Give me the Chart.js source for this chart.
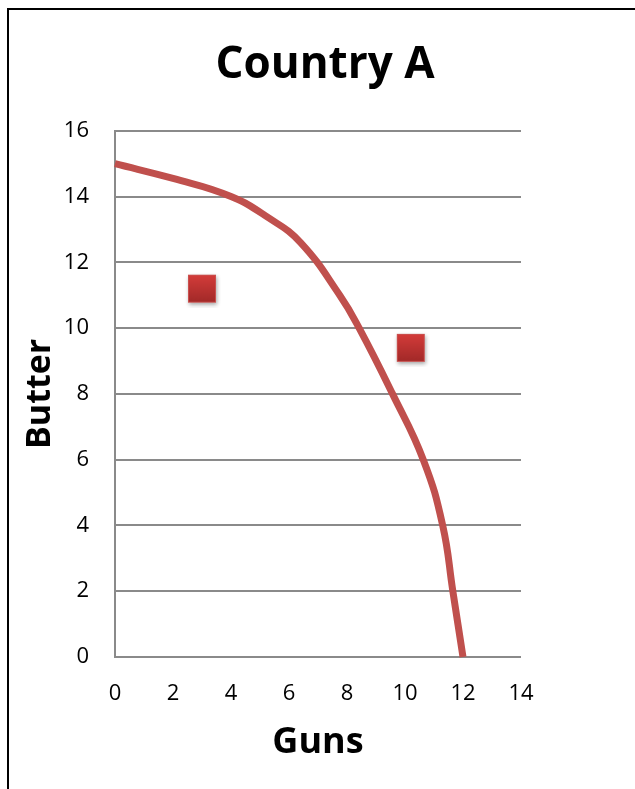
<!DOCTYPE html>
<html>
<head>
<meta charset="utf-8">
<script src="https://cdn.jsdelivr.net/npm/chart.js@4/dist/chart.umd.min.js"></script>
<style>
  html, body { margin: 0; padding: 0; background: #fff; overflow: hidden; }
  #wrap { position: relative; width: 635px; height: 789px; }
  #frame { position: absolute; left: 7px; top: 8px; right: -20px; bottom: -20px;
           border-left: 2px solid #000; border-top: 2px solid #000; }
  canvas { position: absolute; left: 0; top: 0; }
</style>
</head>
<body>
<div id="wrap">
  <div id="frame"></div>
  <canvas id="c" width="635" height="789"></canvas>
</div>
<script>
// Production possibility frontier
const frontierGuns   = [0, 2, 4, 5.3, 6.4, 7.75, 8.42, 9.57, 10.63, 11.3, 11.65, 12];
const frontierButter = [15, 14.55, 14, 13.35, 12.6, 11, 10, 8, 6, 4, 2, 0];

// Individual production points
const pointGuns   = [3, 10.2, 15.6];
const pointButter = [11.2, 9.4, 5.8];

// Axis ticks
const gunsTicks   = [0, 2, 4, 6, 8, 10, 12, 14];
const butterTicks = [0, 2, 4, 6, 8, 10, 12, 14, 16];

const RED = '#C0504D';
const FONT = "'Open Sans', 'DejaVu Sans', sans-serif";

// Shaded square marker with a soft drop shadow
function makeMarker() {
  const size = 28, pad = 5;
  const cv = document.createElement('canvas');
  cv.width = size + pad * 2;
  cv.height = size + pad * 2;
  const g = cv.getContext('2d');
  g.save();
  g.shadowColor = 'rgba(0,0,0,0.35)';
  g.shadowBlur = 4;
  g.shadowOffsetX = 1;
  g.shadowOffsetY = 2;
  const grad = g.createLinearGradient(0, pad, 0, pad + size);
  grad.addColorStop(0, '#D43C3A');
  grad.addColorStop(1, '#A12928');
  g.fillStyle = grad;
  g.fillRect(pad, pad, size, size);
  g.restore();
  g.strokeStyle = '#C9504E';
  g.lineWidth = 1;
  g.strokeRect(pad + 0.5, pad + 0.5, size - 1, size - 1);
  return cv;
}

const frontier = frontierGuns.map((x, i) => ({ x, y: frontierButter[i] }));
const points = pointGuns.map((x, i) => ({ x, y: pointButter[i] }));

new Chart(document.getElementById('c'), {
  type: 'scatter',
  data: {
    datasets: [
      {
        data: frontier,
        showLine: true,
        borderColor: RED,
        borderWidth: 7,
        pointRadius: 0,
        tension: 0.45,
        fill: false,
        clip: false
      },
      {
        data: points,
        showLine: false,
        pointStyle: makeMarker(),
        pointRadius: 19,
        clip: false
      }
    ]
  },
  options: {
    responsive: false,
    animation: false,
    events: [],
    layout: { padding: { left: 15, right: 0, top: 0, bottom: 0 } },
    plugins: {
      legend: { display: false },
      tooltip: { enabled: false },
      title: {
        display: true,
        text: 'Country A',
        color: '#000',
        font: { family: FONT, size: 44, weight: 'bold', lineHeight: 1.2 },
        padding: { top: 39, bottom: 39 }
      }
    },
    scales: {
      x: {
        type: 'linear',
        min: 0,
        max: 14,
        afterBuildTicks: (s) => { s.ticks = gunsTicks.map(v => ({ value: v })); },
        afterFit: (s) => { s.height = 132; },
        grid: { display: false, drawTicks: false },
        border: { display: false },
        ticks: { color: '#000', padding: 24, font: { family: FONT, size: 22 } },
        title: {
          display: true,
          text: 'Guns',
          color: '#000',
          font: { family: FONT, size: 36, weight: 'bold', lineHeight: 1.2 },
          padding: { top: 0, bottom: 25 }
        }
      },
      y: {
        type: 'linear',
        min: 0,
        max: 16,
        afterBuildTicks: (s) => { s.ticks = butterTicks.map(v => ({ value: v })); },
        afterFit: (s) => { s.width = 100; },
        grid: { color: '#8A8A8A', lineWidth: 2, drawTicks: false },
        border: { display: true, color: '#8A8A8A', width: 2 },
        ticks: { color: '#000', padding: 26, font: { family: FONT, size: 22 } },
        title: {
          display: true,
          text: 'Butter',
          color: '#000',
          font: { family: FONT, size: 34, weight: 'bold', lineHeight: 1.2 },
          padding: { top: 5, bottom: 0 }
        }
      },
      // empty margin to the right of the plot
      side: {
        type: 'linear',
        position: 'right',
        display: true,
        afterFit: (s) => { s.width = 114; },
        grid: { display: false, drawTicks: false },
        border: { display: false },
        ticks: { display: false }
      }
    }
  }
});
</script>
</body>
</html>
